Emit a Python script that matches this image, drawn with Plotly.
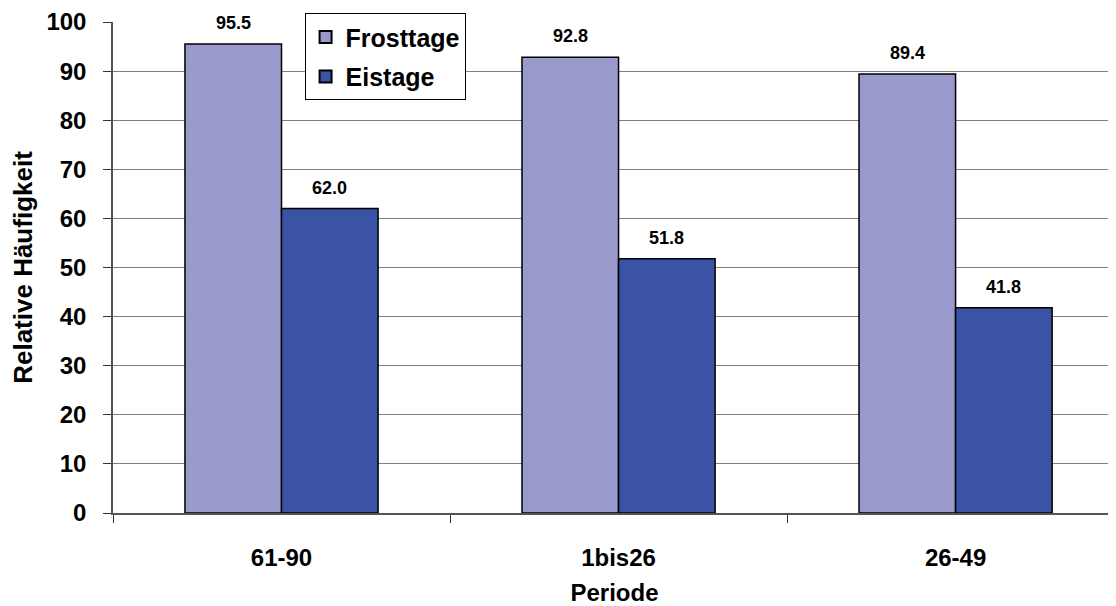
import plotly.graph_objects as go

categories = ["61-90", "1bis26", "26-49"]
frosttage = [95.5, 92.8, 89.4]
eistage = [62.0, 51.8, 41.8]
series_names = ["Frosttage", "Eistage"]
series_colors = ["#9999CC", "#3A53A4"]

font_family = "Liberation Sans, Arial, sans-serif"
bargap = 0.427

fig = go.Figure()
for name, vals, col in zip(series_names, [frosttage, eistage], series_colors):
    fig.add_trace(go.Bar(
        x=categories, y=vals, name=name, legendgroup=name,
        marker=dict(color=col, line=dict(color="#000000", width=1.5)),
    ))

# value labels above bars (offset by group position)
bar_w = (1 - bargap) / 2
for k, vals in enumerate([frosttage, eistage]):
    off = (k - 0.5) * bar_w
    for i, v in enumerate(vals):
        fig.add_annotation(
            x=i + off, y=v, xref="x", yref="y",
            text=f"{v:.1f}", showarrow=False,
            yanchor="bottom", yshift=9,
            font=dict(size=18, family=font_family, color="#000000", weight="bold"),
        )

fig.update_layout(
    width=1108, height=598,
    margin=dict(l=105, r=0, t=14, b=93),
    paper_bgcolor="white", plot_bgcolor="white",
    font=dict(family=font_family, color="#000000"),
    barmode="group", bargap=bargap, bargroupgap=0,
    showlegend=True,
    legend=dict(
        x=0.191, y=1.018, xanchor="left", yanchor="top",
        bordercolor="#000000", borderwidth=1, bgcolor="white",
        font=dict(size=25, family=font_family, color="#000000", weight="bold"),
        itemsizing="constant", tracegroupgap=4, itemwidth=30,
    ),
)

fig.update_xaxes(
    type="category", range=[-0.5, 2.476],
    tickson="boundaries", ticks="outside", ticklen=8, tickcolor="#333333",
    showline=True, linecolor="#555555", linewidth=1.5,
    showgrid=False,
    tickfont=dict(size=24, family=font_family, color="#000000", weight="bold"),
    ticklabelstandoff=22,
    title=dict(text="Periode", font=dict(size=24, family=font_family, weight="bold"), standoff=17),
)
fig.update_yaxes(
    range=[0, 100], dtick=10, ticks="outside", ticklen=8, tickcolor="#333333",
    showline=True, linecolor="#555555", linewidth=1.5,
    showgrid=True, gridcolor="#808080", gridwidth=1,
    zeroline=False,
    tickfont=dict(size=24, family=font_family, color="#000000", weight="bold"),
    ticklabelstandoff=12,
    title=dict(text="Relative Häufigkeit", font=dict(size=26, family=font_family, weight="bold"), standoff=10),
)

fig.write_html("out.html")
